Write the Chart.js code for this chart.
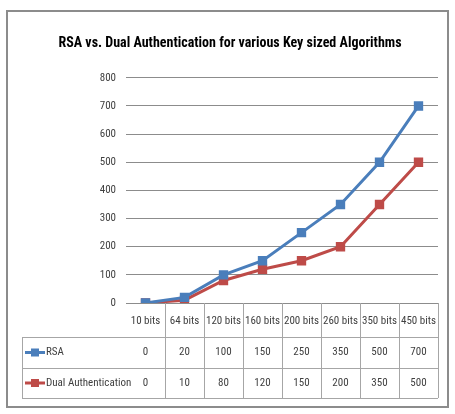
<!DOCTYPE html>
<html>
<head>
<meta charset="utf-8">
<script src="https://cdn.jsdelivr.net/npm/chart.js@4"></script>
<style>
  html, body { margin: 0; padding: 0; background: #fff; }
</style>
</head>
<body>
<canvas id="keyChart" width="455" height="414"></canvas>
<script>
// chart data
const categories = ['10 bits', '64 bits', '120 bits', '160 bits', '200 bits', '260 bits', '350 bits', '450 bits'];
const rsaValues = [0, 20, 100, 150, 250, 350, 500, 700];
const dualValues = [0, 10, 80, 120, 150, 200, 350, 500];
const seriesNames = ['RSA', 'Dual Authentication'];
const yTicks = [0, 100, 200, 300, 400, 500, 600, 700, 800];

const FONT = "'Roboto Condensed', 'DejaVu Sans Condensed', sans-serif";
const BLUE = '#4a7ebb';
const RED = '#be4b48';

// white background + outer frame
const framePlugin = {
  id: 'frame',
  beforeDraw(chart) {
    const ctx = chart.ctx;
    ctx.save();
    ctx.fillStyle = '#fff';
    ctx.fillRect(0, 0, chart.width, chart.height);
    ctx.strokeStyle = '#8c8c8c';
    ctx.lineWidth = 2;
    ctx.strokeRect(7, 11, 441, 396);
    ctx.restore();
  }
};

// data table under the plot, like Excel's "show data table"
const tablePlugin = {
  id: 'dataTable',
  afterDraw(chart) {
    const ctx = chart.ctx;
    const xs = chart.scales.x;
    const area = chart.chartArea;
    const top = area.bottom;
    const rowTops = [top + 34, top + 65, top + 95];
    const left = 22;
    const half = (xs.getPixelForValue(1) - xs.getPixelForValue(0)) / 2;

    ctx.save();
    ctx.strokeStyle = '#a6a6a6';
    ctx.lineWidth = 1;
    ctx.beginPath();
    rowTops.forEach(y => {
      ctx.moveTo(left, y + 0.5);
      ctx.lineTo(area.right, y + 0.5);
    });
    ctx.moveTo(left + 0.5, rowTops[0]);
    ctx.lineTo(left + 0.5, rowTops[2]);
    for (let i = 0; i < categories.length; i++) {
      const xb = Math.round(xs.getPixelForValue(i) + half) + 0.5;
      ctx.moveTo(xb, top);
      ctx.lineTo(xb, rowTops[2]);
    }
    ctx.stroke();

    ctx.font = '11px ' + FONT;
    ctx.textBaseline = 'middle';
    const rows = [rsaValues, dualValues];
    const colors = [BLUE, RED];
    rows.forEach((vals, r) => {
      const cy = (rowTops[r] + rowTops[r + 1]) / 2;
      // legend key
      ctx.strokeStyle = colors[r];
      ctx.lineWidth = 3;
      ctx.beginPath();
      ctx.moveTo(25, cy);
      ctx.lineTo(45, cy);
      ctx.stroke();
      ctx.fillStyle = colors[r];
      ctx.fillRect(31, cy - 4, 8, 8);
      ctx.fillStyle = '#404040';
      ctx.textAlign = 'left';
      ctx.fillText(seriesNames[r], 46, cy);
      ctx.textAlign = 'center';
      vals.forEach((v, i) => ctx.fillText(String(v), xs.getPixelForValue(i), cy));
    });
    ctx.restore();
  }
};

new Chart(document.getElementById('keyChart'), {
  type: 'line',
  data: {
    labels: categories,
    datasets: [
      {
        label: seriesNames[0],
        data: rsaValues,
        borderColor: BLUE,
        backgroundColor: BLUE,
        borderWidth: 3,
        pointStyle: 'rect',
        pointRadius: 4.5,
        tension: 0
      },
      {
        label: seriesNames[1],
        data: dualValues,
        borderColor: RED,
        backgroundColor: RED,
        borderWidth: 3,
        pointStyle: 'rect',
        pointRadius: 4.5,
        tension: 0
      }
    ]
  },
  options: {
    responsive: false,
    animation: false,
    layout: { padding: { left: 22, right: 17, top: 0, bottom: 0 } },
    scales: {
      x: {
        offset: true,
        grid: { display: false, drawTicks: false },
        border: { color: '#8c8c8c' },
        afterFit: axis => { axis.height = 111; },
        ticks: {
          autoSkip: false,
          maxRotation: 0,
          padding: 12,
          color: '#404040',
          font: { family: FONT, size: 11 }
        }
      },
      y: {
        min: yTicks[0],
        max: yTicks[yTicks.length - 1],
        afterFit: axis => { axis.width = 104; },
        afterBuildTicks: axis => { axis.ticks = yTicks.map(v => ({ value: v })); },
        grid: { color: '#8c8c8c', drawTicks: false },
        border: { display: false },
        ticks: {
          padding: 10,
          color: '#404040',
          font: { family: FONT, size: 11 }
        }
      }
    },
    plugins: {
      legend: { display: false },
      tooltip: { enabled: false },
      title: {
        display: true,
        text: 'RSA vs. Dual Authentication for various Key sized Algorithms',
        color: '#000',
        font: { family: FONT, size: 14, weight: 'bold', lineHeight: 1.2 },
        padding: { top: 35, bottom: 26 }
      }
    }
  },
  plugins: [framePlugin, tablePlugin]
});
</script>
</body>
</html>
